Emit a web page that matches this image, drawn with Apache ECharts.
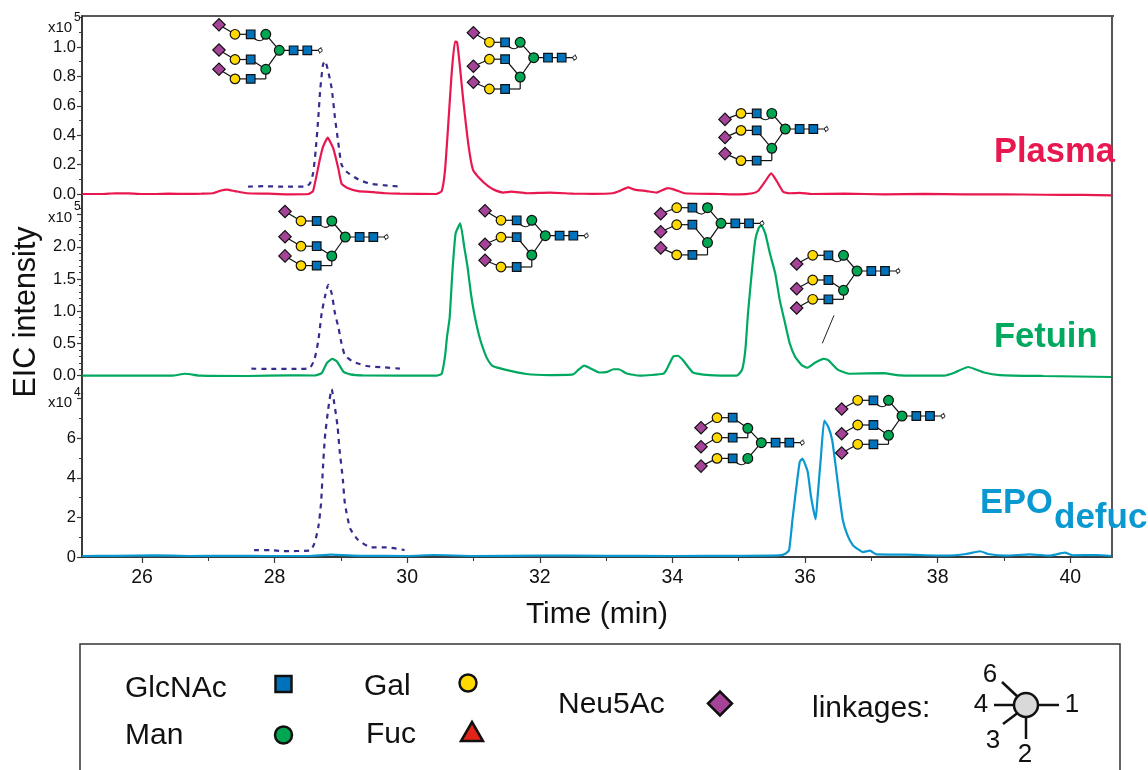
<!DOCTYPE html>
<html><head><meta charset="utf-8">
<style>html,body{margin:0;padding:0;background:#fff}#c{width:1148px;height:770px}</style>
<script src="https://cdn.jsdelivr.net/npm/echarts@6/dist/echarts.min.js"></script>
</head><body><div id="c"></div>
<script>
const plasmaTime=[25.1,25.4,25.6,25.8,26.0,26.2,26.4,26.7,26.9,27.07,27.18,27.28,27.4,27.58,27.9,28.2,28.51,28.58,28.68,28.73,28.8,28.885,28.96,29.01,29.09,29.26,29.49,29.68,29.89,30.44,30.52,30.57,30.62,30.67,30.72,30.75,30.79,30.84,30.92,30.99,31.09,31.22,31.34,31.45,31.57,31.8,32.15,32.5,32.8,33.1,33.2,33.33,33.43,33.61,33.76,33.93,34.03,34.18,34.71,35.01,35.21,35.29,35.39,35.49,35.57,35.67,35.76,35.92,36.1,36.6,37.2,37.8,38.4,39.0,39.6,40.2,40.63];
const plasmaValue=[0,0,.005,.004,0,0,.002,.001,.002,.005,.022,.03,.02,.005,.002,-.002,0,.02,.23,.32,.383,.31,.175,.07,.043,.02,.013,.005,.003,0,.02,.16,.48,.82,1.036,1.035,.89,.66,.345,.168,.107,.054,.023,.01,.016,.005,.009,.003,.001,.005,.02,.045,.03,.02,.01,.04,.03,.005,0,-.003,.005,.02,.08,.14,.09,.015,.005,.008,0,.002,-.002,.001,-.003,-.002,-.005,-.006,-.01];
const plasmaStdTime=[27.6,27.83,28.13,28.46,28.53,28.58,28.62,28.66,28.69,28.73,28.76,28.8,28.86,28.91,28.96,29.01,29.09,29.26,29.44,29.64,29.89];
const plasmaStdValue=[.05,.053,.05,.05,.07,.14,.3,.526,.72,.88,.905,.85,.72,.52,.35,.2,.15,.1,.07,.06,.05];

const fetuinTime=[25.1,26.45,26.65,26.89,27.6,28.2,28.6,28.71,28.79,28.87,28.94,29.04,29.14,29.33,30.44,30.52,30.57,30.6,30.64,30.68,30.73,30.8,30.86,30.91,30.96,31.01,31.09,31.17,31.22,31.29,31.49,31.8,32.15,32.5,32.58,32.67,32.79,32.9,33.02,33.11,33.19,33.31,33.51,33.86,33.91,34.01,34.08,34.16,34.31,34.56,34.97,35.05,35.1,35.14,35.2,35.25,35.3,35.34,35.4,35.47,35.55,35.62,35.7,35.77,35.85,35.95,36.04,36.15,36.28,36.35,36.5,36.68,37.18,37.43,38.1,38.26,38.46,38.7,38.94,39.6,40.63];
const fetuinValue=[0,0,.03,0,-.005,.005,.003,.04,.2,.26,.22,.06,.02,.005,0,.03,.3,.6,.9,1.59,2.21,2.365,2.0,1.69,1.28,.97,.6,.35,.24,.15,.09,.026,.01,.02,.09,.155,.1,.05,.06,.1,.1,.035,0,.03,.09,.295,.31,.24,.05,.01,0,.09,.4,.97,1.64,2.11,2.29,2.34,2.21,1.9,1.59,1.17,.81,.5,.295,.165,.124,.2,.26,.24,.09,.03,.04,.005,0,.05,.135,.05,.01,-.005,-.02];
const fetuinStdTime=[27.65,27.88,28.38,28.53,28.6,28.66,28.71,28.76,28.81,28.86,28.91,28.96,29.01,29.06,29.18,29.39,29.64,29.89];
const fetuinStdValue=[.11,.105,.105,.12,.25,.55,.97,1.23,1.41,1.28,.97,.76,.5,.32,.22,.15,.13,.11];

const epoTime=[25.1,25.6,26.2,26.7,27.3,27.9,28.5,28.85,29.3,30.0,30.4,31.0,32.0,33.0,34.0,35.0,35.62,35.71,35.76,35.81,35.87,35.92,35.96,36.04,36.09,36.16,36.19,36.24,36.29,36.35,36.41,36.47,36.52,36.57,36.64,36.72,36.8,36.87,36.98,37.08,37.53,38.13,38.43,38.64,38.76,39.04,39.39,39.69,39.92,40.04,40.39,40.63];
const epoValue=[.05,.06,.08,.05,.06,.05,.05,.12,.06,.05,.1,.05,.07,.06,.05,.06,.08,.18,.35,1.87,3.55,4.8,4.97,4.3,3.05,1.9,3.05,5.07,6.89,6.58,5.9,4.39,3.05,1.87,1.1,.6,.39,.25,.32,.13,.12,.07,.15,.29,.15,.07,.13,.07,.22,.08,.1,.05];
const epoStdTime=[27.69,27.93,28.13,28.53,28.6,28.66,28.7,28.73,28.76,28.81,28.86,28.9,28.95,28.98,29.03,29.06,29.14,29.26,29.46,29.69,29.96];
const epoStdValue=[.35,.35,.3,.32,.69,1.53,2.71,4.56,6.08,7.5,8.47,7.76,6.58,5.4,3.89,2.71,1.45,.86,.49,.49,.35];

const timeMajor=[26,28,30,32,34,36,38,40];
const timeMinor=[27,29,31,33,35,37,39];
const plasmaLabels=[0,.2,.4,.6,.8,1];
const plasmaMajor=[0,.2,.4,.6,.8,1];
const plasmaMinor=[.1,.3,.5,.7,.9,1.1,1.2];
const fetuinLabels=[0,.5,1,1.5,2];
const fetuinMajor=[0,.5,1,1.5,2,2.5];
const fetuinMinor=[.1,.2,.3,.4,.6,.7,.8,.9,1.1,1.2,1.3,1.4,1.6,1.7,1.8,1.9,2.1,2.2,2.3,2.4,2.6];
const epoLabels=[0,2,4,6];
const epoMajor=[0,2,4,6,8];
const epoMinor=[1,3,5,7];

const zip=(a,b)=>a.map((v,i)=>[v,b[i]]);
const FONT='"Liberation Sans"';
const X=[25.095,40.63];
const grids=[{left:82,width:1030,top:16,height:184},{left:82,width:1030,top:200,height:185},{left:82,width:1030,top:385,height:172}];
const yRange=[[-6/147,178/147],[-9.3/64.4,175.7/64.4],[0,172/19.8]];
const fixed=[1,1,0];
const AX='#3a3a3a';

const xAxis=[],yAxis=[];
grids.forEach((g,i)=>{
  const last=i===2;
  xAxis.push({gridIndex:i,type:'value',min:X[0],max:X[1],position:'bottom',show:last,splitLine:{show:false},
    axisLine:{onZero:false,show:true,lineStyle:{color:AX,width:2}},
    axisTick:{show:true,length:6,customValues:timeMajor,lineStyle:{color:AX,width:1.2}},
    axisLabel:{show:true,customValues:timeMajor,fontSize:19.5,fontFamily:FONT,color:'#111',margin:11,formatter:v=>String(v)},
    name:last?'Time (min)':'',nameLocation:'middle',nameGap:43,nameTextStyle:{fontSize:30,fontFamily:FONT,color:'#111'}});
  xAxis.push({gridIndex:i,type:'value',min:X[0],max:X[1],position:'bottom',show:last,splitLine:{show:false},
    axisLine:{show:false,onZero:false},
    axisTick:{show:true,length:4,customValues:timeMinor,lineStyle:{color:AX,width:1}},
    axisLabel:{show:false}});
  const lab=[plasmaLabels,fetuinLabels,epoLabels][i], maj=[plasmaMajor,fetuinMajor,epoMajor][i], min=[plasmaMinor,fetuinMinor,epoMinor][i];
  const d=fixed[i];
  yAxis.push({gridIndex:i,type:'value',min:yRange[i][0],max:yRange[i][1],position:'left',splitLine:{show:false},
    axisLine:{show:true,onZero:false,lineStyle:{color:AX,width:2}},
    axisTick:{show:true,length:5,customValues:maj,lineStyle:{color:AX,width:1.2}},
    axisLabel:{show:true,customValues:lab,fontSize:16.5,fontFamily:FONT,color:'#111',margin:6,formatter:v=>v.toFixed(d)}});
  yAxis.push({gridIndex:i,type:'value',min:yRange[i][0],max:yRange[i][1],position:'left',splitLine:{show:false},
    axisLine:{show:false,onZero:false},
    axisTick:{show:true,length:3,customValues:min,lineStyle:{color:AX,width:1}},
    axisLabel:{show:false}});
});
const COL={plasma:'#e8174f',fetuin:'#00a860',epo:'#0a98d0',std:'#352d8e'};
const ln=(name,g,data,color,dash)=>({name,type:'line',xAxisIndex:g*2,yAxisIndex:g*2,data,showSymbol:false,symbol:'none',smooth:dash?0.2:0.15,clip:false,
  lineStyle:{color,width:dash?2.2:2.2,type:dash?[5,5]:'solid',cap:'butt'},z:dash?3:4,silent:true,animation:false});
const series=[
 ln('Plasma',0,zip(plasmaTime,plasmaValue),COL.plasma,false),
 ln('Plasma standard',0,zip(plasmaStdTime,plasmaStdValue),COL.std,true),
 ln('Fetuin',1,zip(fetuinTime,fetuinValue),COL.fetuin,false),
 ln('Fetuin standard',1,zip(fetuinStdTime,fetuinStdValue),COL.std,true),
 ln('EPO defuc',2,zip(epoTime,epoValue),COL.epo,false),
 ln('EPO standard',2,zip(epoStdTime,epoStdValue),COL.std,true)
];

/* ---------- decoration: glycan cartoons, labels, legend box ---------- */
const SUG={gn:'#0072bc',gal:'#ffd900',man:'#00a651',neu:'#a54399',fuc:'#e2231a'};
const G=[];
const txt=(x,y,t,size,o={})=>G.push({type:'text',x,y,rotation:o.rot||0,z:20,style:{text:t,fontSize:size,fontFamily:FONT,fontWeight:o.w||'normal',fill:o.c||'#111',align:o.a||'left',verticalAlign:'middle'}});
const line=(a,b,c,d,w=1.2,col='#111')=>G.push({type:'line',z:20,shape:{x1:a,y1:b,x2:c,y2:d},style:{stroke:col,lineWidth:w}});
const circ=(x,y,r,f,w=1.2)=>G.push({type:'circle',z:21,shape:{cx:x,cy:y,r},style:{fill:f,stroke:'#111',lineWidth:w}});
const sq=(x,y,s,f,w=1.2)=>G.push({type:'rect',z:21,shape:{x:x-s/2,y:y-s/2,width:s,height:s},style:{fill:f,stroke:'#111',lineWidth:w}});
const dia=(x,y,r,f,w=1.2)=>G.push({type:'polygon',z:21,shape:{points:[[x-r,y],[x,y-r],[x+r,y],[x,y+r]]},style:{fill:f,stroke:'#111',lineWidth:w}});
const curl=(a,b,c,d)=>G.push({type:'bezierCurve',z:20,shape:{x1:a,y1:b,x2:c,y2:d,cpx1:a+6,cpy1:b+8,cpx2:c-3,cpy2:d+9},style:{stroke:'#111',lineWidth:1.1,fill:'none'}});
const DX={neu:-60.3,gal:-44.3,gn:-28.6,man:-13.5,c1:14.3,c2:28,end:41};
const TPL={
 A:{arms:[-16,9.2,28.6],neu:[-9.5,-9.5,-9.7],top:-16,low:19,flip:false},
 B:{arms:[-15.4,1.5,31.3],neu:[-9.6,7,-6.7],top:-15.4,low:19.3,flip:false},
 C:{arms:[-15.6,1.4,31.6],neu:[6,7,-7],top:-15.6,low:19.3,flip:false},
 D:{arms:[-15.7,9,28.3],neu:[8.7,8.7,8.7],top:-15.7,low:19.3,flip:false},
 E:{arms:[-25,-5,15.7],neu:[10,9,7.7],top:-14.4,low:15.7,flip:true}
};
function glycan(cx,cy,k){
  const t=TPL[k],mx=cx+DX.man,yt=cy+t.top,yl=cy+t.low;
  line(cx,cy,cx+DX.end,cy);
  line(cx,cy,mx,yt);line(cx,cy,mx,yl);
  t.arms.forEach((a,i)=>{
    const y=cy+a;
    line(cx+DX.neu,y+t.neu[i],cx+DX.gal,y);
    line(cx+DX.gal,y,cx+DX.gn,y);
  });
  const [a0,a1,a2]=t.arms.map(a=>cy+a),gx=cx+DX.gn;
  if(!t.flip){
    curl(gx,a0,mx,yt);
    line(gx,a1,mx,yl);
    line(gx,a2,mx,a2);line(mx,a2,mx,yl);
  }else{
    line(gx,a0,mx,yt);
    line(gx,a1,mx,a1);line(mx,a1,mx,yt);
    curl(gx,a2,mx,yl);
  }
  t.arms.forEach((a,i)=>{
    const y=cy+a;
    dia(cx+DX.neu,y+t.neu[i],6.2,SUG.neu);
    circ(cx+DX.gal,y,4.8,SUG.gal);
    sq(cx+DX.gn,y,8.6,SUG.gn);
  });
  circ(mx,yt,4.9,SUG.man);circ(mx,yl,4.9,SUG.man);circ(cx,cy,4.9,SUG.man);
  sq(cx+DX.c1,cy,8.6,SUG.gn);sq(cx+DX.c2,cy,8.6,SUG.gn);
  G.push({type:'circle',z:21,shape:{cx:cx+DX.end,cy,r:1.9},style:{fill:'#fff',stroke:'#111',lineWidth:.9}});
  line(cx+DX.end+.8,cy-3.2,cx+DX.end-.8,cy+3.2,.9);
}
[[279.3,50.3,'A'],[533.7,57.7,'B'],[785.3,129,'C'],[345.3,237,'A'],[545.3,235.7,'B'],[721,223.3,'C'],[857,271,'D'],[761.3,442.7,'E'],[902,416,'D']]
  .forEach(g=>glycan(...g));
line(834,315.3,822.3,343.3,1,'#222');

// frame
G.push({type:'line',z:5,shape:{x1:82,y1:16,x2:1114,y2:16},style:{stroke:'#222',lineWidth:1.5}});
G.push({type:'line',z:5,shape:{x1:1112,y1:16,x2:1112,y2:558},style:{stroke:'#555',lineWidth:2}});
// multipliers
[[28,18,'5'],[218,207,'5'],[403,393,'4']].forEach(([a,b,e])=>{txt(48,a,'x10',15);txt(74,b,e,12);});
txt(27,312,'EIC intensity',30.5,{rot:Math.PI/2,a:'center'});
// panel labels
txt(994,152,'Plasma',34.5,{w:'bold',c:COL.plasma});
txt(994,337,'Fetuin',34.5,{w:'bold',c:COL.fetuin});
txt(980,503,'EPO',34.5,{w:'bold',c:COL.epo});
txt(1054,518,'defuc',35,{w:'bold',c:COL.epo});
// legend box
G.push({type:'polyline',z:5,shape:{points:[[80,771],[80,644],[1120,644],[1120,771]]},style:{stroke:'#333',lineWidth:1.5,fill:'none'}});
txt(125,689,'GlcNAc',30);txt(364,687,'Gal',30);txt(125,736,'Man',30);txt(366,735,'Fuc',30);txt(558,705,'Neu5Ac',30);txt(812,709,'linkages:',30);
sq(283.5,684,16,SUG.gn,2.5);circ(468,683,8.5,SUG.gal,2.5);circ(283.5,735,8.5,SUG.man,2.5);
G.push({type:'polygon',z:21,shape:{points:[[472,722],[483,741],[461,741]]},style:{fill:SUG.fuc,stroke:'#111',lineWidth:2.5}});
dia(720,703.5,12,SUG.neu,2.5);
line(1037,705,1059,705,2.5);line(994,705,1015,705,2.5);line(1002,682,1019,698,2.5);line(1003,724,1019,712,2.5);line(1026,716,1026,739,2.5);
circ(1026,705,12,'#d9d9d9',2.5);
[[990,675,'6'],[981,705,'4'],[1072,705,'1'],[993,741,'3'],[1025,755,'2']].forEach(([x,y,t])=>txt(x,y,t,26,{a:'center'}));

const chart=echarts.init(document.getElementById('c'),null,{renderer:'canvas'});
chart.setOption({animation:false,backgroundColor:'#fff',grid:grids,xAxis,yAxis,series,graphic:{elements:G}});
</script></body></html>
